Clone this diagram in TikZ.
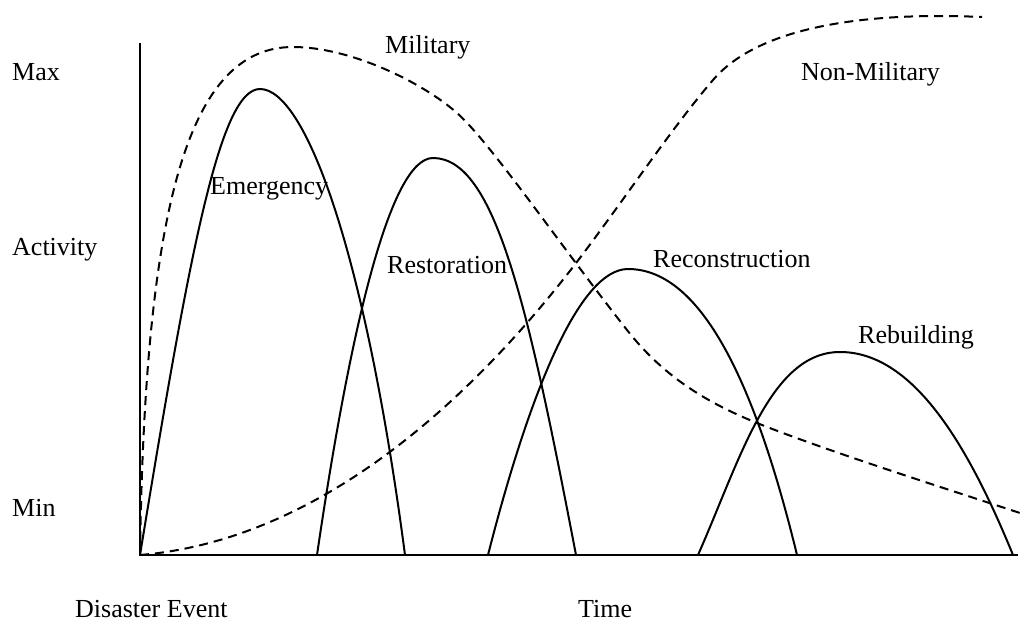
\documentclass[tikz,border=0pt]{standalone}
\usepackage{fontspec}
\setmainfont{Liberation Serif}
\begin{document}
\begin{tikzpicture}[x=1pt,y=-1pt,
  axis/.style={line width=2.6pt},
  phase/.style={line width=2pt, line join=round},
  sector/.style={line width=2pt, dash pattern=on 9pt off 6pt},
  lbl/.style={inner sep=0pt, anchor=base west, font=\fontsize{26}{30}\selectfont}]
\useasboundingbox (0,0) rectangle (1023,621);

% axes
\coordinate (origin) at (140,555);
\coordinate (ytop) at (140,43);
\coordinate (xend) at (1018,555);
\draw[axis] (ytop) -- (origin) -- (xend);

% axis labels
\node[lbl] (max) at (12,80) {Max};
\node[lbl] (activity) at (12,255) {Activity};
\node[lbl] (min) at (12,516) {Min};
\node[lbl] (event) at (75,617) {Disaster Event};
\node[lbl] (time) at (578,617) {Time};

% phases of recovery
\draw[phase] (origin) .. controls (190,250) and (220,89) .. (260,89)
  .. controls (305,89) and (365,250) .. (405,555);
\draw[phase] (317,555) .. controls (350,330) and (390,158) .. (433,158)
  .. controls (495,158) and (528,305) .. (576,555);
\draw[phase] (488,555) .. controls (530,390) and (580,269) .. (628,269)
  .. controls (705,269) and (758,395) .. (797,555);
\draw[phase] (698,555) .. controls (740,460) and (770,352) .. (840,352)
  .. controls (915,352) and (970,450) .. (1013,555);

\node[lbl] (emerg) at (210,194) {Emergency};
\node[lbl] (resto) at (387,273) {Restoration};
\node[lbl] (recon) at (653,267) {Reconstruction};
\node[lbl] (rebuild) at (858,343) {Rebuilding};

% military involvement: sharp rise, early peak, long decline
\draw[sector] (origin) .. controls (145,200) and (190,47) .. (293,47)
  .. controls (350,47) and (422,82) .. (457,113)
  .. controls (490,142) and (560,245) .. (627,330)
  .. controls (660,372) and (700,400) .. (757,423)
  .. controls (827,451) and (950,490) .. (1020,513);
% non-military involvement: slow start, late plateau
\draw[sector] (origin) .. controls (320,540) and (470,400) .. (573,267)
  .. controls (620,206) and (670,130) .. (713,80)
  .. controls (760,25) and (870,12) .. (982,17);

\node[lbl] (military) at (385,53) {Military};
\node[lbl] (nonmil) at (801,80) {Non-Military};
\end{tikzpicture}
\end{document}
